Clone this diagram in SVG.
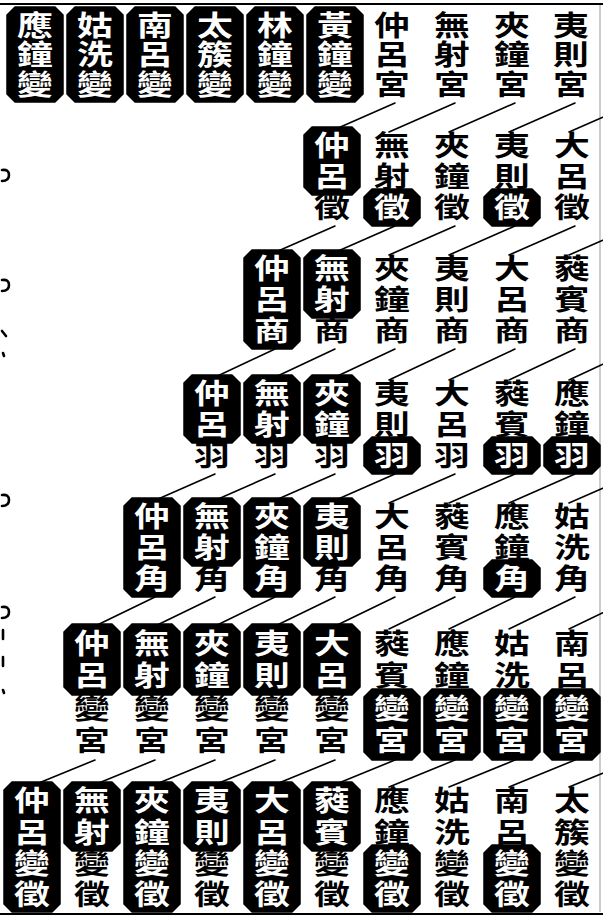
<svg xmlns="http://www.w3.org/2000/svg" xmlns:xlink="http://www.w3.org/1999/xlink" width="603" height="917" viewBox="0 0 603 917">
<style>
.t{font-family:"Noto Sans CJK TC","Noto Sans CJK SC",sans-serif;font-size:28px;font-weight:700;fill:#000;writing-mode:vertical-rl;text-orientation:upright;text-anchor:start;transform:scale(1.28,1)}
.w{fill:#fff}
.b{fill:#000;stroke:#000;stroke-width:1.5;stroke-linejoin:round}
.ln{fill:none;stroke:#000;stroke-width:1.6;stroke-linecap:round}
.mk{fill:none;stroke:#000;stroke-width:2.6;stroke-linecap:round}
.frame{fill:none;stroke:#000;stroke-width:2}
</style>
<defs>
<path id="bx1" class="b" d="M-20 7H20L28 15V94L20 102H-20L-28 94V15Z"/>
<path id="bx2a" class="b" d="M-20 127H20L28 135V187L20 195H-20L-28 187V135Z"/>
<path id="bx2c" class="b" d="M-20 189H20L28 197V218L20 226H-20L-28 218V197Z"/>
<path id="bx3all" class="b" d="M-20 250H20L28 258V341L20 349H-20L-28 341V258Z"/>
<path id="bx3a" class="b" d="M-20 250H20L28 258V310L20 318H-20L-28 310V258Z"/>
<path id="bx4a" class="b" d="M-20 375H20L28 383V435L20 443H-20L-28 435V383Z"/>
<path id="bx4c" class="b" d="M-20 437H20L28 445V466L20 474H-20L-28 466V445Z"/>
<path id="bx5all" class="b" d="M-20 498H20L28 506V589L20 597H-20L-28 589V506Z"/>
<path id="bx5a" class="b" d="M-20 498H20L28 506V558L20 566H-20L-28 558V506Z"/>
<path id="bx5c" class="b" d="M-20 560H20L28 568V589L20 597H-20L-28 589V568Z"/>
<path id="bx6a" class="b" d="M-20 624H20L28 632V687L20 695H-20L-28 687V632Z"/>
<path id="bx6c" class="b" d="M-20 689H20L28 697V752L20 760H-20L-28 752V697Z"/>
<path id="bx7all" class="b" d="M-20 782H20L28 790V904L20 912H-20L-28 904V790Z"/>
<path id="bx7a" class="b" d="M-20 782H20L28 790V843L20 851H-20L-28 843V790Z"/>
<path id="bx7c" class="b" d="M-20 845H20L28 853V904L20 912H-20L-28 904V853Z"/>
</defs>
<rect width="603" height="917" fill="#fff"/>
<g id="frame">
<path class="frame" d="M0 4H603M0 914H603"/>
<path d="M600 5V912" stroke="#999" stroke-width="1" fill="none"/>
</g>
<g id="margin-marks">
<path class="mk" d="M2 170Q9 169 9 175Q9 181 2 181"/>
<path class="mk" d="M2 280Q9 279 9 285Q9 291 2 291"/>
<path class="mk" d="M2 331L6 336M3 353L4 356"/>
<path class="mk" d="M2 495Q9 494 9 500Q9 506 2 506"/>
<path class="mk" d="M2 607Q9 606 9 612Q9 618 2 618"/>
<path class="mk" d="M3 630V639M3 657V666M3 690L4 693"/>
</g>
<g id="connectors">
<path class="ln" d="M395 103L329 132M455 103L389 132M515 103L449 132M575 103L509 132M635 103L569 132
M335 226L269 255M395 226L329 255M455 226L389 255M515 226L449 255M575 226L509 255M635 226L569 255
M275 349L209 380M335 349L269 380M395 349L329 380M455 349L389 380M515 349L449 380M575 349L509 380M635 349L569 380
M215 474L149 503M275 474L209 503M335 474L269 503M395 474L329 503M455 474L389 503M515 474L449 503M575 474L509 503M635 474L569 503
M155 597L89 629M215 597L149 629M275 597L209 629M335 597L269 629M395 597L329 629M455 597L389 629M515 597L449 629M575 597L509 629M635 597L569 629
M95 760L29 787M155 760L89 787M215 760L149 787M275 760L209 787M335 760L269 787M395 760L329 787M455 760L389 787M515 760L449 787M575 760L509 787M635 760L569 787"/>
</g>
<!-- Row 1: bian labels -->
<g id="yingzhong-bian" transform="translate(35,0)"><use href="#bx1"/><text class="t"><tspan class="w" x="0" y="11">應</tspan><tspan class="w" x="0" y="41">鐘</tspan><tspan class="w" x="0" y="71">變</tspan></text></g>
<g id="guxian-bian" transform="translate(95,0)"><use href="#bx1"/><text class="t"><tspan class="w" x="0" y="11">姑</tspan><tspan class="w" x="0" y="41">洗</tspan><tspan class="w" x="0" y="71">變</tspan></text></g>
<g id="nanlv-bian" transform="translate(155,0)"><use href="#bx1"/><text class="t"><tspan class="w" x="0" y="11">南</tspan><tspan class="w" x="0" y="41">呂</tspan><tspan class="w" x="0" y="71">變</tspan></text></g>
<g id="taicu-bian" transform="translate(215,0)"><use href="#bx1"/><text class="t"><tspan class="w" x="0" y="11">太</tspan><tspan class="w" x="0" y="41">簇</tspan><tspan class="w" x="0" y="71">變</tspan></text></g>
<g id="linzhong-bian" transform="translate(275,0)"><use href="#bx1"/><text class="t"><tspan class="w" x="0" y="11">林</tspan><tspan class="w" x="0" y="41">鐘</tspan><tspan class="w" x="0" y="71">變</tspan></text></g>
<g id="huangzhong-bian" transform="translate(335,0)"><use href="#bx1"/><text class="t"><tspan class="w" x="0" y="11">黃</tspan><tspan class="w" x="0" y="41">鐘</tspan><tspan class="w" x="0" y="71">變</tspan></text></g>
<!-- Row 1: gong -->
<g id="zhonglv-gong" transform="translate(392,0)"><text class="t"><tspan x="0" y="11">仲</tspan><tspan x="0" y="41">呂</tspan><tspan x="0" y="71">宮</tspan></text></g>
<g id="wuyi-gong" transform="translate(452,0)"><text class="t"><tspan x="0" y="11">無</tspan><tspan x="0" y="41">射</tspan><tspan x="0" y="71">宮</tspan></text></g>
<g id="jiazhong-gong" transform="translate(512,0)"><text class="t"><tspan x="0" y="11">夾</tspan><tspan x="0" y="41">鐘</tspan><tspan x="0" y="71">宮</tspan></text></g>
<g id="yize-gong" transform="translate(571,0)"><text class="t"><tspan x="0" y="11">夷</tspan><tspan x="0" y="41">則</tspan><tspan x="0" y="71">宮</tspan></text></g>
<!-- Row 2: zhi -->
<g id="zhonglv-zhi" transform="translate(332,0)"><use href="#bx2a"/><text class="t"><tspan class="w" x="0" y="131.5">仲</tspan><tspan class="w" x="0" y="162.5">呂</tspan><tspan x="0" y="193.5">徵</tspan></text></g>
<g id="wuyi-zhi" transform="translate(392,0)"><use href="#bx2c"/><text class="t"><tspan x="0" y="131.5">無</tspan><tspan x="0" y="162.5">射</tspan><tspan class="w" x="0" y="193.5">徵</tspan></text></g>
<g id="jiazhong-zhi" transform="translate(452,0)"><text class="t"><tspan x="0" y="131.5">夾</tspan><tspan x="0" y="162.5">鐘</tspan><tspan x="0" y="193.5">徵</tspan></text></g>
<g id="yize-zhi" transform="translate(512,0)"><use href="#bx2c"/><text class="t"><tspan x="0" y="131.5">夷</tspan><tspan x="0" y="162.5">則</tspan><tspan class="w" x="0" y="193.5">徵</tspan></text></g>
<g id="dalv-zhi" transform="translate(572,0)"><text class="t"><tspan x="0" y="131.5">大</tspan><tspan x="0" y="162.5">呂</tspan><tspan x="0" y="193.5">徵</tspan></text></g>
<!-- Row 3: shang -->
<g id="zhonglv-shang" transform="translate(272,0)"><use href="#bx3all"/><text class="t"><tspan class="w" x="0" y="254.5">仲</tspan><tspan class="w" x="0" y="285.5">呂</tspan><tspan class="w" x="0" y="316.5">商</tspan></text></g>
<g id="wuyi-shang" transform="translate(332,0)"><use href="#bx3a"/><text class="t"><tspan class="w" x="0" y="254.5">無</tspan><tspan class="w" x="0" y="285.5">射</tspan><tspan x="0" y="316.5">商</tspan></text></g>
<g id="jiazhong-shang" transform="translate(392,0)"><text class="t"><tspan x="0" y="254.5">夾</tspan><tspan x="0" y="285.5">鐘</tspan><tspan x="0" y="316.5">商</tspan></text></g>
<g id="yize-shang" transform="translate(452,0)"><text class="t"><tspan x="0" y="254.5">夷</tspan><tspan x="0" y="285.5">則</tspan><tspan x="0" y="316.5">商</tspan></text></g>
<g id="dalv-shang" transform="translate(512,0)"><text class="t"><tspan x="0" y="254.5">大</tspan><tspan x="0" y="285.5">呂</tspan><tspan x="0" y="316.5">商</tspan></text></g>
<g id="ruibin-shang" transform="translate(572,0)"><text class="t"><tspan x="0" y="254.5">蕤</tspan><tspan x="0" y="285.5">賓</tspan><tspan x="0" y="316.5">商</tspan></text></g>
<!-- Row 4: yu -->
<g id="zhonglv-yu" transform="translate(212,0)"><use href="#bx4a"/><text class="t"><tspan class="w" x="0" y="379.5">仲</tspan><tspan class="w" x="0" y="410.5">呂</tspan><tspan x="0" y="441.5">羽</tspan></text></g>
<g id="wuyi-yu" transform="translate(272,0)"><use href="#bx4a"/><text class="t"><tspan class="w" x="0" y="379.5">無</tspan><tspan class="w" x="0" y="410.5">射</tspan><tspan x="0" y="441.5">羽</tspan></text></g>
<g id="jiazhong-yu" transform="translate(332,0)"><use href="#bx4a"/><text class="t"><tspan class="w" x="0" y="379.5">夾</tspan><tspan class="w" x="0" y="410.5">鐘</tspan><tspan x="0" y="441.5">羽</tspan></text></g>
<g id="yize-yu" transform="translate(392,0)"><use href="#bx4c"/><text class="t"><tspan x="0" y="379.5">夷</tspan><tspan x="0" y="410.5">則</tspan><tspan class="w" x="0" y="441.5">羽</tspan></text></g>
<g id="dalv-yu" transform="translate(452,0)"><text class="t"><tspan x="0" y="379.5">大</tspan><tspan x="0" y="410.5">呂</tspan><tspan x="0" y="441.5">羽</tspan></text></g>
<g id="ruibin-yu" transform="translate(512,0)"><use href="#bx4c"/><text class="t"><tspan x="0" y="379.5">蕤</tspan><tspan x="0" y="410.5">賓</tspan><tspan class="w" x="0" y="441.5">羽</tspan></text></g>
<g id="yingzhong-yu" transform="translate(572,0)"><use href="#bx4c"/><text class="t"><tspan x="0" y="379.5">應</tspan><tspan x="0" y="410.5">鐘</tspan><tspan class="w" x="0" y="441.5">羽</tspan></text></g>
<!-- Row 5: jue -->
<g id="zhonglv-jue" transform="translate(152,0)"><use href="#bx5all"/><text class="t"><tspan class="w" x="0" y="502.5">仲</tspan><tspan class="w" x="0" y="533.5">呂</tspan><tspan class="w" x="0" y="564.5">角</tspan></text></g>
<g id="wuyi-jue" transform="translate(212,0)"><use href="#bx5a"/><text class="t"><tspan class="w" x="0" y="502.5">無</tspan><tspan class="w" x="0" y="533.5">射</tspan><tspan x="0" y="564.5">角</tspan></text></g>
<g id="jiazhong-jue" transform="translate(272,0)"><use href="#bx5all"/><text class="t"><tspan class="w" x="0" y="502.5">夾</tspan><tspan class="w" x="0" y="533.5">鐘</tspan><tspan class="w" x="0" y="564.5">角</tspan></text></g>
<g id="yize-jue" transform="translate(332,0)"><use href="#bx5a"/><text class="t"><tspan class="w" x="0" y="502.5">夷</tspan><tspan class="w" x="0" y="533.5">則</tspan><tspan x="0" y="564.5">角</tspan></text></g>
<g id="dalv-jue" transform="translate(392,0)"><text class="t"><tspan x="0" y="502.5">大</tspan><tspan x="0" y="533.5">呂</tspan><tspan x="0" y="564.5">角</tspan></text></g>
<g id="ruibin-jue" transform="translate(452,0)"><text class="t"><tspan x="0" y="502.5">蕤</tspan><tspan x="0" y="533.5">賓</tspan><tspan x="0" y="564.5">角</tspan></text></g>
<g id="yingzhong-jue" transform="translate(512,0)"><use href="#bx5c"/><text class="t"><tspan x="0" y="502.5">應</tspan><tspan x="0" y="533.5">鐘</tspan><tspan class="w" x="0" y="564.5">角</tspan></text></g>
<g id="guxian-jue" transform="translate(572,0)"><text class="t"><tspan x="0" y="502.5">姑</tspan><tspan x="0" y="533.5">洗</tspan><tspan x="0" y="564.5">角</tspan></text></g>
<!-- Row 6: bian gong -->
<g id="zhonglv-biangong" transform="translate(92,0)"><use href="#bx6a"/><text class="t"><tspan class="w" x="0" y="629.25">仲</tspan><tspan class="w" x="0" y="661.75">呂</tspan><tspan x="0" y="694.25">變</tspan><tspan x="0" y="726.75">宮</tspan></text></g>
<g id="wuyi-biangong" transform="translate(152,0)"><use href="#bx6a"/><text class="t"><tspan class="w" x="0" y="629.25">無</tspan><tspan class="w" x="0" y="661.75">射</tspan><tspan x="0" y="694.25">變</tspan><tspan x="0" y="726.75">宮</tspan></text></g>
<g id="jiazhong-biangong" transform="translate(212,0)"><use href="#bx6a"/><text class="t"><tspan class="w" x="0" y="629.25">夾</tspan><tspan class="w" x="0" y="661.75">鐘</tspan><tspan x="0" y="694.25">變</tspan><tspan x="0" y="726.75">宮</tspan></text></g>
<g id="yize-biangong" transform="translate(272,0)"><use href="#bx6a"/><text class="t"><tspan class="w" x="0" y="629.25">夷</tspan><tspan class="w" x="0" y="661.75">則</tspan><tspan x="0" y="694.25">變</tspan><tspan x="0" y="726.75">宮</tspan></text></g>
<g id="dalv-biangong" transform="translate(332,0)"><use href="#bx6a"/><text class="t"><tspan class="w" x="0" y="629.25">大</tspan><tspan class="w" x="0" y="661.75">呂</tspan><tspan x="0" y="694.25">變</tspan><tspan x="0" y="726.75">宮</tspan></text></g>
<g id="ruibin-biangong" transform="translate(392,0)"><use href="#bx6c"/><text class="t"><tspan x="0" y="629.25">蕤</tspan><tspan x="0" y="661.75">賓</tspan><tspan class="w" x="0" y="694.25">變</tspan><tspan class="w" x="0" y="726.75">宮</tspan></text></g>
<g id="yingzhong-biangong" transform="translate(452,0)"><use href="#bx6c"/><text class="t"><tspan x="0" y="629.25">應</tspan><tspan x="0" y="661.75">鐘</tspan><tspan class="w" x="0" y="694.25">變</tspan><tspan class="w" x="0" y="726.75">宮</tspan></text></g>
<g id="guxian-biangong" transform="translate(512,0)"><use href="#bx6c"/><text class="t"><tspan x="0" y="629.25">姑</tspan><tspan x="0" y="661.75">洗</tspan><tspan class="w" x="0" y="694.25">變</tspan><tspan class="w" x="0" y="726.75">宮</tspan></text></g>
<g id="nanlv-biangong" transform="translate(572,0)"><use href="#bx6c"/><text class="t"><tspan x="0" y="629.25">南</tspan><tspan x="0" y="661.75">呂</tspan><tspan class="w" x="0" y="694.25">變</tspan><tspan class="w" x="0" y="726.75">宮</tspan></text></g>
<!-- Row 7: bian zhi -->
<g id="zhonglv-bianzhi" transform="translate(32,0)"><use href="#bx7all"/><text class="t"><tspan class="w" x="0" y="786.75">仲</tspan><tspan class="w" x="0" y="818.25">呂</tspan><tspan class="w" x="0" y="849.75">變</tspan><tspan class="w" x="0" y="881.25">徵</tspan></text></g>
<g id="wuyi-bianzhi" transform="translate(92,0)"><use href="#bx7a"/><text class="t"><tspan class="w" x="0" y="786.75">無</tspan><tspan class="w" x="0" y="818.25">射</tspan><tspan x="0" y="849.75">變</tspan><tspan x="0" y="881.25">徵</tspan></text></g>
<g id="jiazhong-bianzhi" transform="translate(152,0)"><use href="#bx7all"/><text class="t"><tspan class="w" x="0" y="786.75">夾</tspan><tspan class="w" x="0" y="818.25">鐘</tspan><tspan class="w" x="0" y="849.75">變</tspan><tspan class="w" x="0" y="881.25">徵</tspan></text></g>
<g id="yize-bianzhi" transform="translate(212,0)"><use href="#bx7a"/><text class="t"><tspan class="w" x="0" y="786.75">夷</tspan><tspan class="w" x="0" y="818.25">則</tspan><tspan x="0" y="849.75">變</tspan><tspan x="0" y="881.25">徵</tspan></text></g>
<g id="dalv-bianzhi" transform="translate(272,0)"><use href="#bx7all"/><text class="t"><tspan class="w" x="0" y="786.75">大</tspan><tspan class="w" x="0" y="818.25">呂</tspan><tspan class="w" x="0" y="849.75">變</tspan><tspan class="w" x="0" y="881.25">徵</tspan></text></g>
<g id="ruibin-bianzhi" transform="translate(332,0)"><use href="#bx7a"/><text class="t"><tspan class="w" x="0" y="786.75">蕤</tspan><tspan class="w" x="0" y="818.25">賓</tspan><tspan x="0" y="849.75">變</tspan><tspan x="0" y="881.25">徵</tspan></text></g>
<g id="yingzhong-bianzhi" transform="translate(392,0)"><use href="#bx7c"/><text class="t"><tspan x="0" y="786.75">應</tspan><tspan x="0" y="818.25">鐘</tspan><tspan class="w" x="0" y="849.75">變</tspan><tspan class="w" x="0" y="881.25">徵</tspan></text></g>
<g id="guxian-bianzhi" transform="translate(452,0)"><text class="t"><tspan x="0" y="786.75">姑</tspan><tspan x="0" y="818.25">洗</tspan><tspan x="0" y="849.75">變</tspan><tspan x="0" y="881.25">徵</tspan></text></g>
<g id="nanlv-bianzhi" transform="translate(512,0)"><use href="#bx7c"/><text class="t"><tspan x="0" y="786.75">南</tspan><tspan x="0" y="818.25">呂</tspan><tspan class="w" x="0" y="849.75">變</tspan><tspan class="w" x="0" y="881.25">徵</tspan></text></g>
<g id="taicu-bianzhi" transform="translate(572,0)"><text class="t"><tspan x="0" y="786.75">太</tspan><tspan x="0" y="818.25">簇</tspan><tspan x="0" y="849.75">變</tspan><tspan x="0" y="881.25">徵</tspan></text></g>
</svg>
